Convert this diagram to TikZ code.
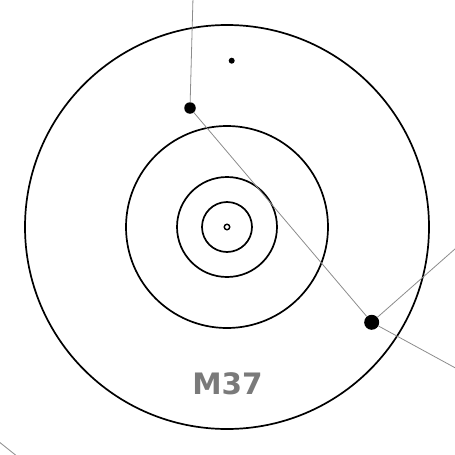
\documentclass[tikz,border=0pt]{standalone}
\usepackage{fontspec}
\newfontfamily\clusterfont{DejaVu Sans}
\usepackage{tikz}
\definecolor{linkgray}{HTML}{8C8C8C}
\definecolor{labelgray}{HTML}{7A7A7A}
\tikzset{
ring/.style={
	circle,
	draw=black,
	line width=1.7pt,
	inner sep=0pt,
	minimum size=#1
},
star/.style={
	circle,
	fill=black,
	inner sep=0pt,
	minimum size=#1
},
link/.style={
	draw=linkgray,
	line width=0.8pt
}
}
\begin{document}
\begin{tikzpicture}[x=1pt, y=-1pt]
\useasboundingbox (0,0) rectangle (455,455);
\clip (0,0) rectangle (455,455);
% ===== Concentric rings (centre at 227,227) =====
\node (outer)  [ring=404pt] at (227,227) {};
\node (middle) [ring=202pt] at (227,227) {};
\node (inner)  [ring=100pt] at (227,227) {};
\node (core)   [ring=50pt]  at (227,227) {};
\node (centre) [circle, draw=black, line width=1.4pt, inner sep=0pt, minimum size=5.5pt] at (227,227) {};
% ===== Stars =====
\node (faint)  [star=6pt]  at (231.7,60.7) {};
\node (upper)  [star=11.5pt] at (190,108) {};
\node (bright) [star=15pt] at (371.7,322.3) {};
% ===== Free ends of the links =====
\coordinate (topend)   at (193.2,-10);
\coordinate (rightup)  at (472,234);
\coordinate (rightlow) at (472,377);
\coordinate (blstart)  at (-12,433);
\coordinate (blend)    at (28,465);
% ===== Links =====
\draw [link] (upper)  -- (topend);
\draw [link] (upper)  -- (bright);
\draw [link] (bright) -- (rightup);
\draw [link] (bright) -- (rightlow);
\draw [link] (blstart) -- (blend);
% ===== Label =====
\node (name) [text=labelgray, font=\clusterfont\bfseries\fontsize{29.5}{31}\selectfont] at (227.5,384) {M37};
\end{tikzpicture}
\end{document}
